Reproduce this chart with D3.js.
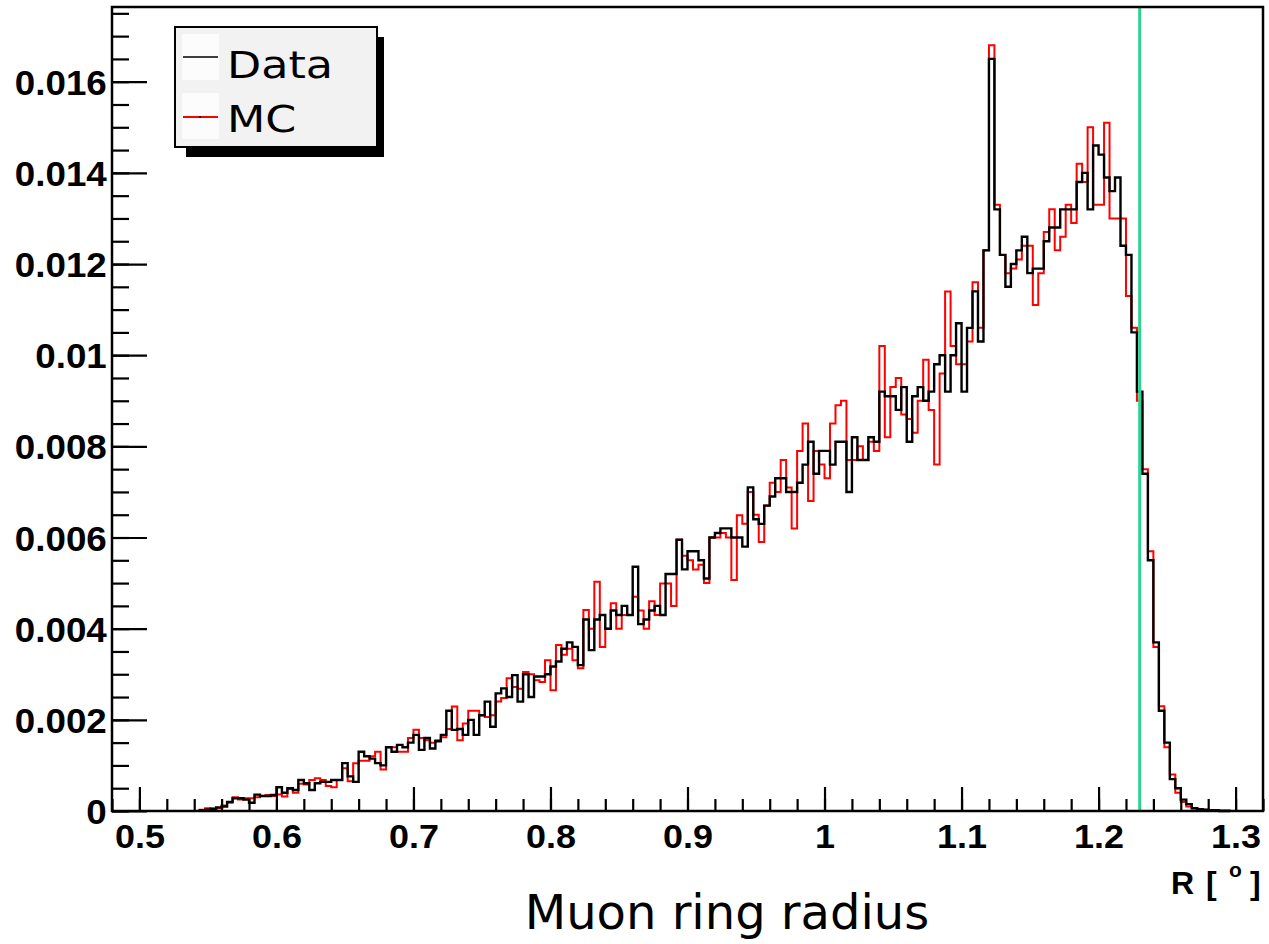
<!DOCTYPE html>
<html>
<head>
<meta charset="utf-8">
<script src="https://cdn.jsdelivr.net/npm/d3@7/dist/d3.min.js"></script>
<style>
body { margin: 0; background: #fff; }
</style>
</head>
<body>
<script>
// histogram bins: first bin low edge and bin width (R in degrees)
var binLow = 0.544;
var binWidth = 0.004;

// normalised counts per bin
var dataVals = [
  0.00002,0.00003,0.00005,0.00008,0.0001,0.0002,0.00028,0.00028,0.00025,0.00018,
  0.00036,0.00033,0.00033,0.00035,0.00052,0.0004,0.0005,0.00046,0.00068,0.00061,
  0.00046,0.00061,0.00064,0.00064,0.00068,0.00068,0.00105,0.00076,0.00064,0.0013,
  0.0012,0.00115,0.00105,0.001,0.0014,0.0013,0.00145,0.0014,0.0015,0.00167,
  0.00134,0.0016,0.00137,0.00153,0.00167,0.0022,0.00178,0.0018,0.00167,0.002,
  0.00167,0.0021,0.0024,0.00185,0.00258,0.00269,0.0025,0.00298,0.0024,0.003,
  0.0025,0.00295,0.00295,0.003,0.00317,0.00328,0.00356,0.0037,0.0036,0.0032,
  0.0042,0.00353,0.0042,0.0043,0.004,0.0044,0.0043,0.0045,0.0043,0.00536,
  0.0041,0.0042,0.0044,0.0045,0.0043,0.0052,0.0052,0.00595,0.0053,0.0057,
  0.0057,0.0055,0.0051,0.006,0.0061,0.0062,0.0062,0.006,0.006,0.0058,
  0.0071,0.0064,0.0063,0.0067,0.0069,0.0073,0.0073,0.007,0.007,0.0072,
  0.0076,0.0081,0.0074,0.0079,0.0079,0.0076,0.0081,0.0081,0.007,0.0082,
  0.0077,0.0077,0.0082,0.0081,0.0092,0.0091,0.0091,0.0088,0.0093,0.0081,
  0.0091,0.0093,0.009,0.0092,0.0098,0.01,0.0092,0.01,0.0107,0.0092,
  0.0106,0.0114,0.0103,0.0123,0.0165,0.0132,0.0122,0.0115,0.012,0.0123,
  0.0126,0.0118,0.0119,0.0119,0.0125,0.0128,0.0128,0.0132,0.0132,0.0132,
  0.0138,0.014,0.0132,0.0146,0.0144,0.0139,0.0136,0.0139,0.0124,0.0122,
  0.0105,0.0092,0.0074,0.0055,0.0037,0.0022,0.0015,0.0007,0.0005,0.00025,
  0.00015,0.00006,0.00004,0.00003,0.00002,0.00001,0,0
];
var mcVals = [
  0.00003,0.00006,0.00005,0.00006,0.00012,0.00018,0.0003,0.00025,0.00028,0.00028,
  0.0003,0.00033,0.00035,0.00033,0.00036,0.00032,0.00048,0.0004,0.0006,0.00058,
  0.00068,0.00072,0.00068,0.00055,0.00052,0.00068,0.00094,0.00065,0.00105,0.0011,
  0.0011,0.0012,0.0013,0.00091,0.0014,0.0014,0.0013,0.0013,0.0016,0.00178,
  0.0016,0.00155,0.0015,0.00155,0.00162,0.0018,0.00229,0.00155,0.00192,0.0022,
  0.0022,0.0021,0.00206,0.0021,0.0024,0.00248,0.00291,0.00272,0.00268,0.00305,
  0.003,0.00287,0.00283,0.00331,0.00265,0.00364,0.00343,0.00356,0.00331,0.00313,
  0.00441,0.004,0.00503,0.0036,0.004,0.00456,0.004,0.0043,0.0043,0.0047,
  0.0044,0.004,0.0046,0.0043,0.00499,0.00499,0.0045,0.00595,0.0056,0.0055,
  0.0053,0.0054,0.005,0.006,0.006,0.0061,0.006,0.00507,0.00649,0.0063,
  0.007,0.0065,0.0059,0.0067,0.0072,0.007,0.0077,0.0071,0.0062,0.0079,
  0.0085,0.0068,0.0079,0.0076,0.0073,0.0085,0.0089,0.009,0.0077,0.0077,
  0.008,0.0077,0.0081,0.0079,0.0102,0.0082,0.0093,0.0095,0.0087,0.0086,
  0.0083,0.009,0.0099,0.0088,0.0076,0.0096,0.0114,0.0102,0.0098,0.0098,
  0.0103,0.0116,0.0106,0.0123,0.0168,0.0133,0.0122,0.0118,0.0119,0.0121,
  0.0124,0.0124,0.0111,0.0118,0.0127,0.0132,0.0123,0.0126,0.0133,0.0129,
  0.0142,0.0138,0.015,0.0133,0.0133,0.0151,0.013,0.013,0.013,0.0113,
  0.0106,0.009,0.0075,0.0057,0.0036,0.0023,0.0014,0.0008,0.0004,0.0002,
  0.0001,0.00006,0.00004,0.00003,0.00002,0.00002,0.00001,0.00001
];

var xTicks = [0.5,0.6,0.7,0.8,0.9,1.0,1.1,1.2,1.3];
var xTickLabels = ["0.5","0.6","0.7","0.8","0.9","1","1.1","1.2","1.3"];
var yTicks = [0,0.002,0.004,0.006,0.008,0.010,0.012,0.014,0.016];
var yTickLabels = ["0","0.002","0.004","0.006","0.008","0.01","0.012","0.014","0.016"];
var cutR = 1.23;
var legendNames = ["Data","MC"];
var legendColors = ["#000000","#ff0000"];

var svg = d3.select("body").append("svg").attr("width",1269).attr("height",944);
svg.append("rect").attr("width",1269).attr("height",944).attr("fill","#fff");

// frame is 112..1263 by 7..811
var x = d3.scaleLinear().domain([0.48,1.32]).range([112,1263]);
var y = d3.scaleLinear().domain([0,0.017639]).range([811,7]);

var labelFont = "'Liberation Sans', Arial, Helvetica, sans-serif";
var textFont = "'DejaVu Sans', Verdana, sans-serif";

// turn bins into a step outline, starting and ending on zero
function stepPoints(vals){
  var pts = [[binLow,0]];
  vals.forEach(function(v,i){ pts.push([binLow + i*binWidth, v]); });
  var end = binLow + vals.length*binWidth;
  pts.push([end, vals[vals.length-1]]);
  pts.push([end, 0]);
  return pts;
}
var step = d3.line()
  .x(function(d){ return x(d[0]); })
  .y(function(d){ return y(d[1]); })
  .curve(d3.curveStepAfter);

svg.append("path")
  .attr("d",step(stepPoints(mcVals)))
  .attr("fill","none").attr("stroke","#ff0000").attr("stroke-width",2);
svg.append("path")
  .attr("d",step(stepPoints(dataVals)))
  .attr("fill","none").attr("stroke","#000").attr("stroke-width",2.4);

// cut line
svg.append("line")
  .attr("x1",x(cutR)).attr("x2",x(cutR))
  .attr("y1",y.range()[1]).attr("y2",y(0))
  .attr("stroke","#2ed394").attr("stroke-width",3);

// minor ticks
var xMinor = d3.range(0.48,1.3201,0.02);
var yMinor = d3.range(0,0.01751,0.0005);

svg.append("g").attr("transform","translate(0,811)")
  .call(d3.axisBottom(x).tickValues(xMinor).tickSizeInner(-12).tickSizeOuter(0).tickFormat(""))
  .call(function(g){ g.select(".domain").remove(); });
svg.append("g").attr("transform","translate(112,0)")
  .call(d3.axisLeft(y).tickValues(yMinor).tickSizeInner(-17).tickSizeOuter(0).tickFormat(""))
  .call(function(g){ g.select(".domain").remove(); });

// major ticks + labels
var xAxis = svg.append("g").attr("transform","translate(0,811)")
  .call(d3.axisBottom(x).tickValues(xTicks).tickSizeInner(-24).tickSizeOuter(0).tickPadding(14)
    .tickFormat(function(d,i){ return xTickLabels[i]; }));
var yAxis = svg.append("g").attr("transform","translate(112,0)")
  .call(d3.axisLeft(y).tickValues(yTicks).tickSizeInner(-35).tickSizeOuter(0).tickPadding(5)
    .tickFormat(function(d,i){ return yTickLabels[i]; }));

svg.selectAll(".tick line").attr("stroke","#000").attr("stroke-width",2.2);
[xAxis,yAxis].forEach(function(g){
  g.select(".domain").remove();
  g.selectAll("text")
    .attr("fill","#000")
    .attr("font-family",labelFont)
    .attr("font-weight","bold");
});
xAxis.selectAll("text").attr("font-size",33).attr("transform","scale(1.09,1)");
yAxis.selectAll("text").attr("font-size",35).attr("dy","0.36em").attr("transform","scale(1.05,1)");

// frame
svg.append("rect")
  .attr("x",112).attr("y",7).attr("width",1263-112).attr("height",811-7)
  .attr("fill","none").attr("stroke","#000").attr("stroke-width",2.5);

// axis unit label R [ °]
var unit = svg.append("text")
  .attr("y",894)
  .attr("font-family",labelFont).attr("font-weight","bold").attr("font-size",32);
unit.append("tspan").attr("x",1171).text("R");
unit.append("tspan").attr("x",1206).text("[");
unit.append("tspan").attr("x",1229).attr("y",877).attr("font-size",21).text("o");
unit.append("tspan").attr("x",1250).attr("y",894).text("]");

// axis title
svg.append("text")
  .attr("x",727).attr("y",929)
  .attr("text-anchor","middle")
  .attr("font-family",textFont).attr("font-size",48)
  .text("Muon ring radius");

// legend with shadow
var lg = svg.append("g");
lg.append("rect").attr("x",186).attr("y",37).attr("width",198).attr("height",120).attr("fill","#000");
lg.append("rect").attr("x",175).attr("y",27).attr("width",202).attr("height",120)
  .attr("fill","#f2f2f2").attr("stroke","#000").attr("stroke-width",2);
lg.selectAll("rect.swatch")
  .data(legendNames)
  .enter().append("rect")
    .attr("class","swatch")
    .attr("x",182).attr("width",37)
    .attr("y",function(d,i){ return 34 + i*59; })
    .attr("height",46)
    .attr("fill","#fcfcfc");
lg.selectAll("line.entry")
  .data(legendNames)
  .enter().append("line")
    .attr("class","entry")
    .attr("x1",183).attr("x2",218)
    .attr("y1",function(d,i){ return 57 + i*60; })
    .attr("y2",function(d,i){ return 57 + i*60; })
    .attr("stroke",function(d,i){ return legendColors[i]; })
    .attr("stroke-width",function(d,i){ return i ? 2 : 1.5; });
lg.append("circle").attr("cx",200).attr("cy",117).attr("r",1).attr("fill","#000");
lg.selectAll("text.entry")
  .data(legendNames)
  .enter().append("text")
    .attr("class","entry")
    .attr("transform",function(d,i){ return "translate(227," + (78 + i*54) + ") scale(1.2,1)"; })
    .attr("font-family",textFont).attr("font-size",37)
    .attr("fill","#000")
    .text(function(d){ return d; });
</script>
</body>
</html>
